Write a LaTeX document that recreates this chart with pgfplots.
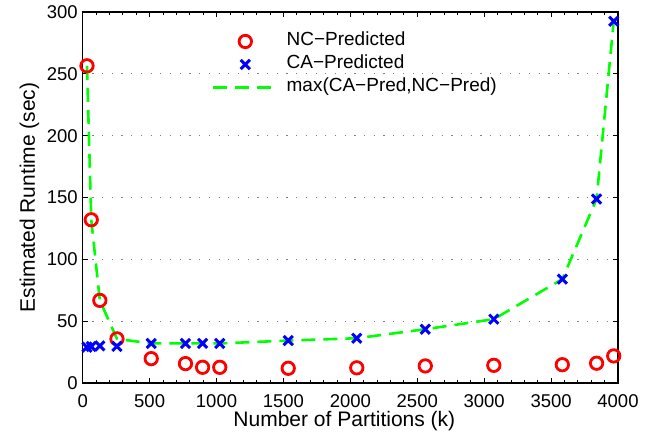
\documentclass[border=0pt]{standalone}
\usepackage{fontspec}
\setmainfont{Liberation Sans}
\usepackage{pgfplots}
\pgfplotsset{compat=1.18}
\usepackage{pgfplotstable}

\pgfplotstableread{
k     nc     ca     mx
32    256.5  29.0   256.5
64    132.0  29.5   132.0
128   66.8   30.0   66.8
256   35.7   29.6   35.7
512   19.7   32.0   32.0
768   15.7   32.0   32.0
896   12.7   32.0   32.0
1024  12.7   32.0   32.0
1536  11.9   34.3   34.3
2048  12.3   36.2   36.2
2560  13.8   43.5   43.5
3072  14.3   51.6   51.6
3584  14.8   84.0   84.0
3840  16.0   148.8  148.8
3968  21.9   292.5  292.5
}\runtime

\begin{document}
\begin{tikzpicture}
\begin{axis}[
    scale only axis,
    width=535.3bp, height=371bp,
    xmin=0, xmax=4000, ymin=0, ymax=300,
    xtick={0,500,...,4000}, ytick={0,50,...,300},
    minor x tick num=4,
    tick align=inside,
    major tick length=5bp, minor tick length=3bp,
    every tick/.style={black, line width=0.8bp},
    axis line style={line width=1.1bp},
    ymajorgrids,
    major grid style={gray, line width=0.9bp, dash pattern=on 1.2bp off 8.5bp},
    font=\fontsize{18.5bp}{22bp}\selectfont,
    /pgf/number format/assume math mode=true,
    /pgf/number format/1000 sep={},
    xticklabel style={yshift=-8bp},
    yticklabel style={xshift=-1.5bp},
    xlabel={Number of Partitions (k)},
    ylabel={Estimated Runtime (sec)},
    every axis x label/.style={at={(rel axis cs:0.5,0)}, xshift=-6bp, yshift=-43.7bp,
        anchor=base, font=\fontsize{21bp}{24bp}\selectfont},
    every axis y label/.style={at={(rel axis cs:0,0.5)}, xshift=-47.7bp, rotate=90,
        anchor=base, font=\fontsize{21bp}{24bp}\selectfont},
    legend cell align=left,
    legend style={draw=none, fill=none, inner sep=0pt, outer sep=0pt,
        anchor=north west, at={(rel axis cs:0.2416,0.9515)},
        font=\fontsize{19bp}{22bp}\selectfont,
        nodes={inner xsep=0pt, inner ysep=2bp, text height=14bp, text depth=5bp}},
    legend image code/.code={
        \draw[mark repeat=2, mark phase=2] plot coordinates {(0bp,0bp) (32bp,0bp) (64bp,0bp)};
        \path (72bp,0bp);
    },
]
\addplot[only marks, mark=o, red, mark size=6.2bp,
    every mark/.append style={line width=2.8bp}] table[x=k, y=nc] {\runtime};
\addlegendentry{NC−Predicted}
\addplot[only marks, mark=x, blue, mark size=6.5bp,
    every mark/.append style={line width=3bp}] table[x=k, y=ca] {\runtime};
\addlegendentry{CA−Predicted}
\addplot[no marks, green, line width=2.6bp, dash pattern=on 14bp off 8bp] table[x=k, y=mx] {\runtime};
\addlegendentry{max(CA−Pred,NC−Pred)}
\end{axis}
\pgfresetboundingbox
\path (-82.7bp,-58bp) rectangle (579.3bp,371bp+12bp);
\end{tikzpicture}
\end{document}
